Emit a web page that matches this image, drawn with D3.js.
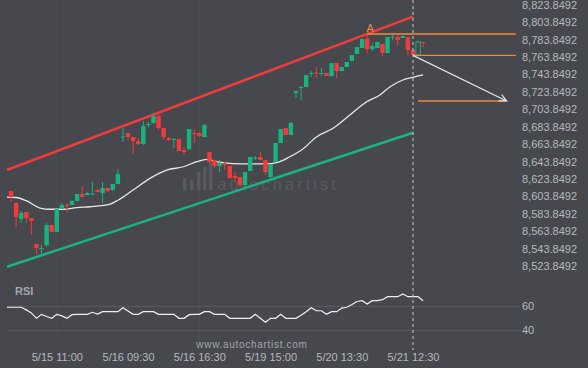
<!DOCTYPE html>
<html>
<head>
<meta charset="utf-8">
<script src="https://cdn.jsdelivr.net/npm/d3@7"></script>
<style>
    body { margin: 0; background: #46484d; }
    svg { display: block; font-family: "Liberation Sans", Arial, sans-serif; }
</style>
</head>
<body>
<div id="js-svg-container"></div>
<script>
// candle values, one per bar (index 0 .. 81)
const candleOpen = [
    8609.9, 8596.2, 8577.8, 8585.8, 8578.9, 8549.1, 8543.3, 8547.9, 8570.9, 8562.9,
    8589.3, 8593.9, 8593.9, 8598.5, 8606.5, 8605.3, 8606.5, 8611.1, 8607.6, 8613.4,
    8611.1, 8618.0, 8671.9, 8676.5, 8671.9, 8667.3, 8663.9, 8686.3, 8688.0, 8696.0,
    8682.3, 8670.8, 8669.1, 8669.6, 8657.0, 8658.1, 8676.5, 8676.5, 8671.9, 8654.7,
    8645.5, 8638.6, 8642.1, 8638.6, 8627.2, 8626.0, 8616.8, 8632.9, 8647.8, 8649.0,
    8645.5, 8626.0, 8643.2, 8665.0, 8682.3, 8674.2, 8722.4, 8728.7, 8729.3, 8744.8,
    8746.0, 8744.8, 8745.4, 8742.0, 8756.9, 8747.7, 8752.3, 8759.2, 8767.2, 8774.1,
    8785.2, 8772.9, 8774.1, 8778.7, 8768.4, 8786.7, 8786.7, 8785.6, 8786.7, 8771.8,
    8766.1, 8781.0
];
const candleHigh = [
    8609.9, 8597.3, 8587.0, 8585.8, 8578.9, 8549.1, 8547.9, 8573.2, 8570.9, 8589.3,
    8596.2, 8596.2, 8599.6, 8606.5, 8615.7, 8608.8, 8620.3, 8612.2, 8620.3, 8613.4,
    8618.0, 8635.2, 8682.3, 8676.5, 8671.9, 8670.8, 8690.3, 8689.1, 8699.5, 8699.5,
    8682.3, 8671.9, 8670.8, 8669.6, 8660.4, 8681.1, 8681.1, 8677.7, 8686.8, 8654.7,
    8645.5, 8645.5, 8643.2, 8638.6, 8631.7, 8626.0, 8631.7, 8649.0, 8650.1, 8654.7,
    8645.5, 8640.9, 8665.0, 8681.1, 8682.3, 8689.1, 8724.7, 8730.5, 8743.1, 8747.7,
    8752.3, 8751.1, 8745.4, 8756.9, 8756.9, 8752.3, 8758.0, 8766.1, 8775.2, 8784.4,
    8791.3, 8779.8, 8781.0, 8778.7, 8786.7, 8789.0, 8789.0, 8787.9, 8786.7, 8771.8,
    8782.5, 8781.0
];
const candleLow = [
    8597.3, 8568.6, 8573.2, 8573.2, 8559.4, 8537.6, 8536.5, 8545.6, 8562.9, 8562.9,
    8589.3, 8584.7, 8593.9, 8598.5, 8603.0, 8605.3, 8605.3, 8608.8, 8596.2, 8608.8,
    8609.9, 8618.0, 8666.2, 8668.5, 8652.4, 8662.7, 8662.7, 8683.4, 8686.8, 8680.0,
    8668.5, 8667.3, 8659.3, 8655.9, 8652.4, 8657.0, 8665.0, 8671.9, 8671.9, 8642.1,
    8636.3, 8631.7, 8634.0, 8624.9, 8620.3, 8614.5, 8613.4, 8632.9, 8645.5, 8645.5,
    8628.3, 8624.9, 8643.2, 8665.0, 8674.2, 8674.2, 8716.7, 8714.4, 8729.3, 8740.8,
    8739.7, 8742.0, 8742.0, 8740.8, 8739.7, 8747.7, 8752.3, 8759.2, 8767.2, 8774.1,
    8768.4, 8770.7, 8774.1, 8764.9, 8768.4, 8783.3, 8777.5, 8785.6, 8766.1, 8766.1,
    8766.1, 8775.2
];
const candleClose = [
    8603.0, 8580.1, 8584.7, 8578.9, 8575.5, 8544.5, 8544.5, 8570.9, 8562.9, 8589.3,
    8593.9, 8592.7, 8598.5, 8606.5, 8603.0, 8607.6, 8607.0, 8608.8, 8613.4, 8609.9,
    8618.0, 8629.4, 8672.5, 8671.9, 8667.3, 8663.9, 8684.6, 8686.8, 8696.0, 8682.3,
    8671.9, 8668.5, 8669.6, 8655.9, 8654.7, 8681.1, 8675.9, 8673.1, 8685.7, 8643.2,
    8638.6, 8642.1, 8639.8, 8624.9, 8624.9, 8616.8, 8631.7, 8649.0, 8648.4, 8645.5,
    8631.7, 8640.9, 8665.0, 8681.1, 8674.2, 8688.0, 8724.7, 8729.3, 8743.1, 8745.4,
    8745.4, 8745.4, 8742.0, 8756.9, 8747.7, 8752.3, 8758.0, 8766.1, 8775.2, 8784.4,
    8772.9, 8776.4, 8781.0, 8768.4, 8786.7, 8787.1, 8783.3, 8787.9, 8771.8, 8766.1,
    8781.0, 8779.8
];
const pendingCandle = 80;

// moving average, [bar index, price]
const maPoints = [
    [-0.8, 8603.0], [1, 8602.5], [3, 8598.8], [5.7, 8590.4], [7.7, 8589.0],
    [10.3, 8589.0], [12.9, 8590.8], [15.5, 8591.9], [19.5, 8595.0], [21.1, 8599.6],
    [24, 8611.1], [27.3, 8624.5], [30.6, 8634.0], [33.9, 8637.8], [36.5, 8643.6],
    [38.5, 8646.3], [40.4, 8643.6], [43.6, 8641.5], [47, 8641.0], [50.2, 8641.0],
    [52.2, 8642.4], [54.8, 8649.3], [57.1, 8657.0], [60.1, 8672.3], [63.3, 8682.0],
    [66.6, 8697.2], [69.9, 8712.5], [72.5, 8720.2], [74.5, 8729.7], [77, 8737.4],
    [79, 8740.5], [81, 8743.2]
];

// channel lines, [bar index, price]
const channelUpper = [[-0.8, 8634.1], [79, 8810.2]];
const channelLower = [[-0.8, 8523.0], [79, 8676.9]];

// pattern levels: price, from bar, to bar
const levelPrices = [8790.2, 8765.7, 8713.3];
const levelFrom = [70, 79, 80];
const levelTo = [99.2, 99.2, 97.4];
const forecastArrow = [[79, 8765.7], [97.4, 8713.3]];
const pointA = 70;

const rsiValues = [
    59.2, 59.2, 59.2, 57, 54.5, 50, 53.3, 51.5, 50, 53.3,
    52, 50, 53, 53.3, 53.3, 53.3, 55, 53.5, 55.5, 55.5,
    55.5, 55.5, 58.8, 56, 53.3, 53.3, 55.5, 55.5, 55.5, 53.3,
    53.3, 53.3, 53.3, 50, 50, 53, 53.3, 53.3, 55.5, 55.5,
    53.3, 53.3, 53.3, 50, 50, 50, 50, 50, 53.3, 50,
    46.7, 50, 50, 53.3, 50, 50, 50, 52.5, 55.5, 58.8,
    56.3, 56.3, 53.3, 55.5, 55.5, 58.5, 59.2, 61.5, 64, 64.7,
    61.9, 64.7, 64.7, 65.5, 68, 68, 68, 70.3, 68, 68,
    68, 64.7
];
const rsiTicks = [40, 60];

const priceTicks = d3.range(0, 16).map(k => 8523.8492 + 20 * k);
const timeTickIndex = [9, 23, 37, 51, 65, 79];
const timeTickLabels = ['5/15 11:00', '5/16 09:30', '5/16 16:30', '5/19 15:00', '5/20 13:30', '5/21 12:30'];

let width = 588;
let height = 368;

let colors = {
    bg: '#46484d',
    up: '#19b380',
    down: '#f23b3d',
    text: '#b6b9bd',
    orange: '#f0883e',
    grid: '#5a5d62',
    faint: '#4b4e53',
    mark: '#565a5f'
};

let svg = d3.select('#js-svg-container')
    .append('svg')
    .attr('width', width)
    .attr('height', height)
    .style('background', colors.bg);

let x = d3.scaleLinear()
    .domain([0, 79])
    .range([11, 413]);

let y = d3.scaleLinear()
    .domain([8523.8492, 8823.8492])
    .range([266, 4.7]);

let yRsi = d3.scaleLinear()
    .domain([40, 60])
    .range([330.3, 306.3]);

// faint vertical grid at time ticks
svg.append('g')
    .selectAll('line')
    .data(timeTickIndex)
    .enter()
    .append('line')
    .attr('x1', d => x(d)).attr('x2', d => x(d))
    .attr('y1', 0).attr('y2', 340)
    .attr('stroke', colors.faint)
    .attr('stroke-width', 1);

// watermark
let wm = svg.append('g').attr('fill', colors.mark);
[[183, 12], [190, 10], [197, 18], [203, 23], [209, 27]].forEach(b => {
    wm.append('rect')
        .attr('x', b[0]).attr('y', 190 - b[1])
        .attr('width', 3.5).attr('height', b[1]);
});
wm.append('text')
    .attr('x', 217).attr('y', 190)
    .attr('font-size', 17)
    .attr('letter-spacing', 2.8)
    .text('autochartist');

// channel
let line = d3.line()
    .x(d => x(d[0]))
    .y(d => y(d[1]));

svg.append('path')
    .attr('d', line(channelUpper))
    .attr('fill', 'none')
    .attr('stroke', '#f03c3c')
    .attr('stroke-width', 2.5);

svg.append('path')
    .attr('d', line(channelLower))
    .attr('fill', 'none')
    .attr('stroke', '#1ab383')
    .attr('stroke-width', 2.5);

// moving average
svg.append('path')
    .attr('d', line.curve(d3.curveMonotoneX)(maPoints))
    .attr('fill', 'none')
    .attr('stroke', '#e8e8e8')
    .attr('stroke-width', 1.3);
line.curve(d3.curveLinear);

// candles
let candles = svg.append('g')
    .selectAll('g')
    .data(candleOpen.map((o, i) => ({
        i: i, o: o, h: candleHigh[i], l: candleLow[i], c: candleClose[i]
    })))
    .enter()
    .append('g');

candles.append('line')
    .attr('x1', d => x(d.i)).attr('x2', d => x(d.i))
    .attr('y1', d => y(d.h)).attr('y2', d => y(d.l))
    .attr('stroke', d => d.c >= d.o ? colors.up : colors.down)
    .attr('stroke-width', 1);

candles.append('rect')
    .attr('x', d => x(d.i) - 2.2)
    .attr('width', 4.4)
    .attr('y', d => y(Math.max(d.o, d.c)))
    .attr('height', d => Math.max(1, Math.abs(y(d.o) - y(d.c))))
    .attr('fill', d => d.i === pendingCandle ? colors.bg : (d.c >= d.o ? colors.up : colors.down))
    .attr('stroke', d => d.i === pendingCandle ? colors.up : 'none')
    .attr('stroke-width', 1);

// pattern levels
svg.append('g')
    .selectAll('line')
    .data(levelPrices)
    .enter()
    .append('line')
    .attr('x1', (d, i) => x(levelFrom[i]))
    .attr('x2', (d, i) => x(levelTo[i]))
    .attr('y1', d => y(d)).attr('y2', d => y(d))
    .attr('stroke', colors.orange)
    .attr('stroke-width', 1.3);

svg.append('text')
    .attr('x', x(pointA) + 3)
    .attr('y', y(candleHigh[pointA]) - 1)
    .attr('text-anchor', 'middle')
    .attr('font-size', 11)
    .attr('fill', colors.orange)
    .text('A');

// forecast arrow
let a0 = [x(forecastArrow[0][0]), y(forecastArrow[0][1])];
let a1 = [x(forecastArrow[1][0]), y(forecastArrow[1][1])];
let ang = Math.atan2(a1[1] - a0[1], a1[0] - a0[0]);
svg.append('path')
    .attr('d', 'M' + a0 + 'L' + a1
        + 'M' + [a1[0] - 8 * Math.cos(ang - 0.45), a1[1] - 8 * Math.sin(ang - 0.45)]
        + 'L' + a1
        + 'L' + [a1[0] - 8 * Math.cos(ang + 0.45), a1[1] - 8 * Math.sin(ang + 0.45)])
    .attr('fill', 'none')
    .attr('stroke', '#e6e6e6')
    .attr('stroke-width', 1.2);

// price axis
let axisY = svg.append('g')
    .attr('transform', 'translate(522,0)')
    .call(d3.axisRight(y)
        .tickValues(priceTicks)
        .tickSize(0)
        .tickPadding(0)
        .tickFormat(d3.format(',.4f')));
axisY.select('.domain').remove();
axisY.selectAll('text')
    .attr('fill', colors.text)
    .attr('font-size', 11)
    .attr('font-family', '"Liberation Sans", Arial, sans-serif');

// RSI panel
svg.append('text')
    .attr('x', 15).attr('y', 295)
    .attr('font-size', 11)
    .attr('font-weight', 'bold')
    .attr('fill', '#a3a7ad')
    .text('RSI');

svg.append('g')
    .selectAll('line')
    .data(rsiTicks)
    .enter()
    .append('line')
    .attr('x1', 7).attr('x2', 520)
    .attr('y1', d => yRsi(d)).attr('y2', d => yRsi(d))
    .attr('stroke', colors.grid)
    .attr('stroke-width', 1);

let rsiLine = d3.line()
    .x(d => x(d[0]))
    .y(d => yRsi(d[1]));

svg.append('path')
    .attr('d', rsiLine([[-0.8, rsiValues[0]]].concat(rsiValues.map((v, i) => [i, v]))))
    .attr('fill', 'none')
    .attr('stroke', '#f0f0f0')
    .attr('stroke-width', 1.2);

let axisRsi = svg.append('g')
    .attr('transform', 'translate(522,0)')
    .call(d3.axisRight(yRsi)
        .tickValues(rsiTicks)
        .tickSize(0)
        .tickPadding(0));
axisRsi.select('.domain').remove();
axisRsi.selectAll('text')
    .attr('fill', colors.text)
    .attr('font-size', 11)
    .attr('font-family', '"Liberation Sans", Arial, sans-serif');

// current bar marker
svg.append('line')
    .attr('x1', x(79)).attr('x2', x(79))
    .attr('y1', 0).attr('y2', 350)
    .attr('stroke', '#c9c9c9')
    .attr('stroke-width', 1)
    .attr('stroke-dasharray', '3,3');

// time axis
let axisX = svg.append('g')
    .attr('transform', 'translate(0,352.7)')
    .call(d3.axisBottom(x)
        .tickValues(timeTickIndex)
        .tickSize(0)
        .tickPadding(0)
        .tickFormat((d, i) => timeTickLabels[i]));
axisX.select('.domain').remove();
axisX.selectAll('text')
    .attr('fill', colors.text)
    .attr('font-size', 11)
    .attr('font-family', '"Liberation Sans", Arial, sans-serif');

svg.append('text')
    .attr('x', 252).attr('y', 347.5)
    .attr('text-anchor', 'middle')
    .attr('font-size', 10)
    .attr('letter-spacing', 0.7)
    .attr('fill', '#a3a7ad')
    .text('www.autochartist.com');
</script>
</body>
</html>
